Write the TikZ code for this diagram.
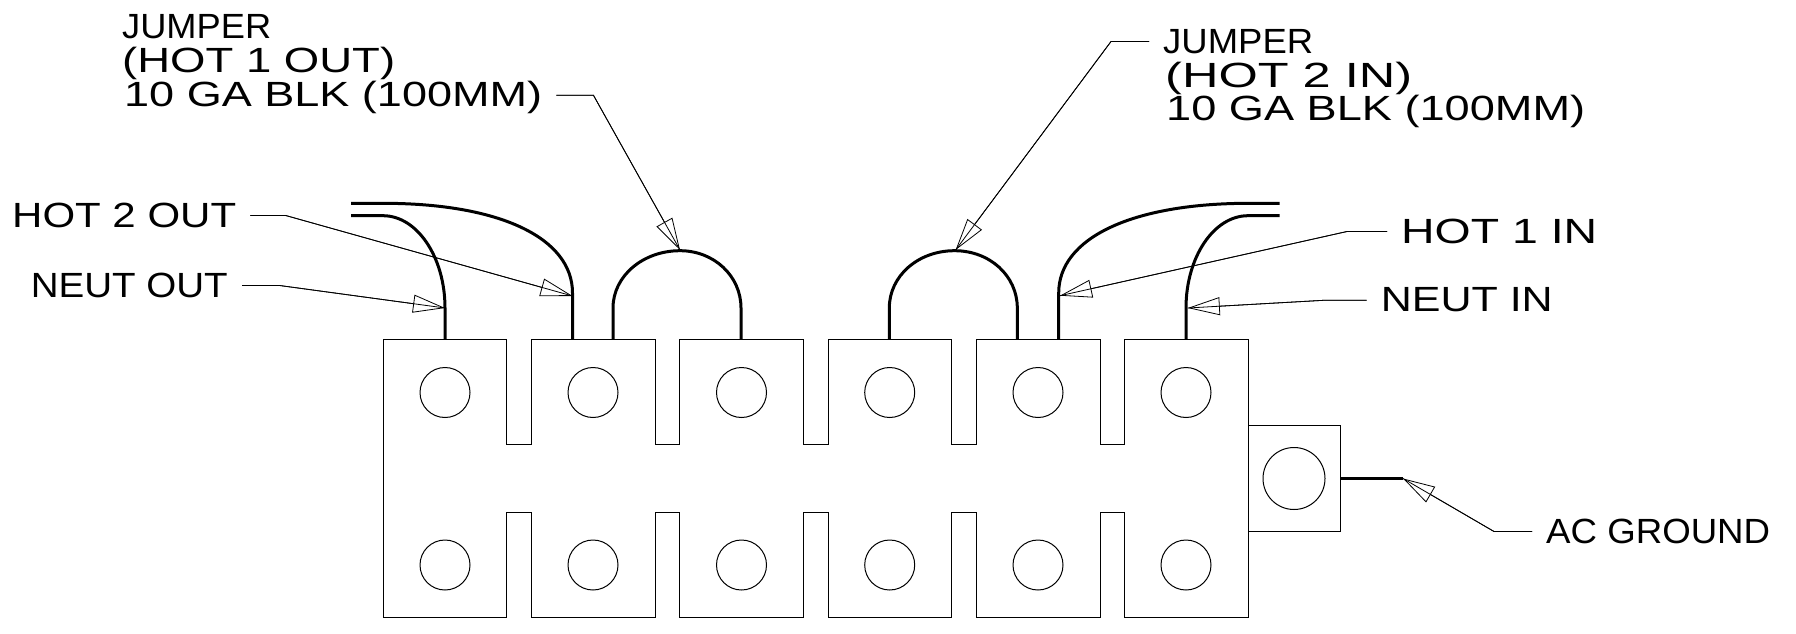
\documentclass[tikz,border=0pt]{standalone}
\usepackage{graphicx}
\usepackage{fontspec}
\setmainfont{Liberation Sans}
\usetikzlibrary{arrows.meta}
\newcommand{\lbltext}[2]{\resizebox{#1pt}{\height}{#2}}
\tikzset{
	lbl/.style={anchor=base west, inner xsep=14pt, inner ysep=0pt, text height=23pt, text depth=0pt, font=\fontsize{35}{35}\selectfont},
	outline/.style={line width=1pt},
	wire/.style={line width=3pt},
	leader/.style={line width=.8pt, postaction={draw, -{Triangle[open, length=32pt, width=18pt]}}},
}

\begin{document}
\begin{tikzpicture}[x=1pt, y=-1pt]
		\useasboundingbox (0,0) rectangle (1796,634);
		%Terminal block
			%body
				\draw[outline] (383,339.3) -- (506.6,339.3) -- (506.6,444.3) -- (531.4,444.3) -- (531.4,339.3) -- (655,339.3) -- (655,444.3) -- (679.6,444.3) -- (679.6,339.3) -- (803.5,339.3) -- (803.5,444.3) -- (828,444.3) -- (828,339.3) -- (951.5,339.3) -- (951.5,444.3) -- (976,444.3) -- (976,339.3) -- (1100,339.3) -- (1100,444.3) -- (1124.5,444.3) -- (1124.5,339.3) -- (1248,339.3) -- (1248,617) -- (1124.5,617) -- (1124.5,512.3) -- (1100,512.3) -- (1100,617) -- (976,617) -- (976,512.3) -- (951.5,512.3) -- (951.5,617) -- (828,617) -- (828,512.3) -- (803.5,512.3) -- (803.5,617) -- (679.6,617) -- (679.6,512.3) -- (655,512.3) -- (655,617) -- (531.4,617) -- (531.4,512.3) -- (506.6,512.3) -- (506.6,617) -- (383,617) -- cycle;
			%top bolts
				\draw[outline] (445,392.5) circle (25pt);
				\draw[outline] (593,392.5) circle (25pt);
				\draw[outline] (741.5,392.5) circle (25pt);
				\draw[outline] (889.7,392.5) circle (25pt);
				\draw[outline] (1038,392.5) circle (25pt);
				\draw[outline] (1186,392.5) circle (25pt);
			%bottom bolts
				\draw[outline] (445,565) circle (25pt);
				\draw[outline] (593,565) circle (25pt);
				\draw[outline] (741.5,565) circle (25pt);
				\draw[outline] (889.7,565) circle (25pt);
				\draw[outline] (1038,565) circle (25pt);
				\draw[outline] (1186,565) circle (25pt);
			%ground tab
				\draw[outline] (1248,425.7) -- (1340.6,425.7) -- (1340.6,531) -- (1248,531);
				\draw[outline] (1294,478.5) circle (31pt);
		%Wires
			%neut out
				\draw[wire] (351,215.7) -- (383,215.7) .. controls (417,215.7) and (445,257) .. (445,308) -- (445,339.3);
			%hot 2 out
				\draw[wire] (351,203.3) -- (383,203.3) .. controls (500,203.3) and (572.5,238) .. (572.5,293) -- (572.5,339.3);
			%jumper hot 1 out
				\draw[wire] (613,339.3) -- (613,308) .. controls (613,276) and (643,250.7) .. (680,250.7) .. controls (714,250.7) and (741,276) .. (741,308) -- (741,339.3);
			%jumper hot 2 in
				\draw[wire] (889.3,339.3) -- (889.3,308) .. controls (889.3,276) and (918,250.7) .. (954.6,250.7) .. controls (990,250.7) and (1017.3,276) .. (1017.3,308) -- (1017.3,339.3);
			%hot 1 in
				\draw[wire] (1279.6,203.3) -- (1249,203.3) .. controls (1132,203.3) and (1058.7,238) .. (1058.7,293) -- (1058.7,339.3);
			%neut in
				\draw[wire] (1279.6,215.7) -- (1248,215.7) .. controls (1214,215.7) and (1186,257) .. (1186,308) -- (1186,339.3);
			%ac ground
				\draw[wire] (1340.6,478.5) -- (1403,478.5);
		%Labels
			%left jumper
				\node[lbl] (jumperLeftA) at (108,38.3) {\lbltext{149}{JUMPER}};
				\node[lbl] (jumperLeftB) at (108,72.7) {\lbltext{273}{(HOT 1 OUT)}};
				\node[lbl] (jumperLeftC) at (110,106.7) {\lbltext{418}{10 GA BLK (100MM)}};
			%left wires
				\node[lbl] (hotTwoOut) at (-2,227) {\lbltext{224}{HOT 2 OUT}};
				\node[lbl] (neutOut) at (16.6,297) {\lbltext{197}{NEUT OUT}};
			%right jumper
				\node[lbl] (jumperRightA) at (1149,53) {\lbltext{150}{JUMPER}};
				\node[lbl] (jumperRightB) at (1151,87) {\lbltext{247}{(HOT 2 IN)}};
				\node[lbl] (jumperRightC) at (1152,120.7) {\lbltext{419}{10 GA BLK (100MM)}};
			%right wires
				\node[lbl] (hotOneIn) at (1387,243) {\lbltext{196}{HOT 1 IN}};
				\node[lbl] (neutIn) at (1366.6,311.7) {\lbltext{172}{NEUT IN}};
				\node[lbl] (acGround) at (1532,543) {\lbltext{224}{AC GROUND}};
		%Leaders
			%bends
				\coordinate (bendJumperLeft) at (593.4,95.2);
				\coordinate (bendHotTwo) at (285.7,215.5);
				\coordinate (bendNeutOut) at (279.6,285.5);
				\coordinate (bendJumperRight) at (1111,41.5);
				\coordinate (bendHotOne) at (1347,231.5);
				\coordinate (bendNeutIn) at (1325.5,300.2);
				\coordinate (bendGround) at (1494,531.5);
			%tips
				\coordinate (tipJumperLeft) at (680,250);
				\coordinate (tipHotTwo) at (572.5,296);
				\coordinate (tipNeutOut) at (445,308);
				\coordinate (tipJumperRight) at (955.6,250);
				\coordinate (tipHotOne) at (1060,295.7);
				\coordinate (tipNeutIn) at (1187.8,308);
				\coordinate (tipGround) at (1403,478.5);
			%lines
				\draw[leader] (jumperLeftC.east) -- (bendJumperLeft) -- (tipJumperLeft);
				\draw[leader] (hotTwoOut.east) -- (bendHotTwo) -- (tipHotTwo);
				\draw[leader] (neutOut.east) -- (bendNeutOut) -- (tipNeutOut);
				\draw[leader] (jumperRightA.west) -- (bendJumperRight) -- (tipJumperRight);
				\draw[leader] (hotOneIn.west) -- (bendHotOne) -- (tipHotOne);
				\draw[leader] (neutIn.west) -- (bendNeutIn) -- (tipNeutIn);
				\draw[leader] (acGround.west) -- (bendGround) -- (tipGround);
	\end{tikzpicture}
\end{document}
